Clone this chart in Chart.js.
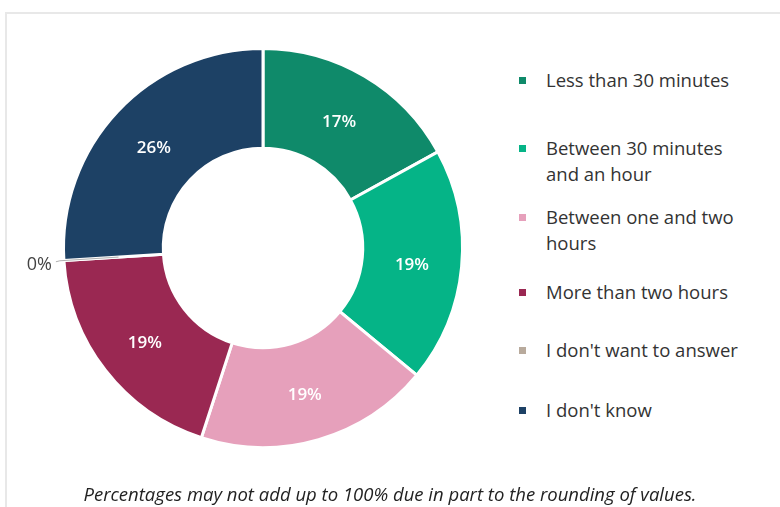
<!DOCTYPE html>
<html>
<head>
<meta charset="utf-8">
<script src="https://cdn.jsdelivr.net/npm/chart.js@4"></script>
<style>
  html, body { margin: 0; padding: 0; background: #fff; }
  body { width: 780px; height: 507px; position: relative; overflow: hidden; font-family: "Open Sans", sans-serif; }
  .frame { position: absolute; left: 5px; top: 12px; width: 800px; height: 520px; border-top: 2px solid #e8e8e8; border-left: 2px solid #e8e8e8; }
  #wrap { position: absolute; left: 0; top: 0; width: 527px; height: 497px; }
  #legend { position: absolute; left: 0; top: 0; }
  .item { position: absolute; left: 546px; width: 212px; font-size: 18.5px; line-height: 26px; color: #333; }
  .item i { position: absolute; left: -27px; top: 10px; width: 7px; height: 7px; }
  .note { position: absolute; left: 0; width: 780px; top: 481px; text-align: center; font-style: italic; font-size: 18.5px; color: #222; }
</style>
</head>
<body>
<div class="frame"></div>
<div id="wrap"><canvas id="timeChart"></canvas></div>
<div id="legend"></div>
<div class="note">Percentages may not add up to 100% due in part to the rounding of values.</div>
<script>
const categories = [
  'Less than 30 minutes',
  'Between 30 minutes and an hour',
  'Between one and two hours',
  'More than two hours',
  "I don't want to answer",
  "I don't know"
];
const shares = [17, 19, 19, 19, 0, 26];
const colors = ['#0f8a6a', '#05b487', '#e6a0bb', '#9a2852', '#b8aa9c', '#1d4165'];

// vertical slot of each legend row
const legendTops = [67, 135, 204, 279, 337, 397];

// white percentage inside each slice, leader line for the empty one
const sliceLabels = {
  id: 'sliceLabels',
  afterDatasetsDraw(chart) {
    const ctx = chart.ctx;
    const meta = chart.getDatasetMeta(0);
    ctx.save();
    meta.data.forEach((arc, i) => {
      const v = shares[i];
      const text = v + '%';
      if (v > 0) {
        const p = arc.tooltipPosition();
        ctx.fillStyle = '#fff';
        ctx.font = '600 17px "Open Sans"';
        ctx.textAlign = 'center';
        ctx.textBaseline = 'middle';
        ctx.fillText(text, p.x, p.y + 3);
      } else {
        const a = (arc.startAngle + arc.endAngle) / 2;
        const r0 = arc.innerRadius + 45, r1 = arc.outerRadius + 4;
        const x1 = arc.x + Math.cos(a) * r1, y1 = arc.y + Math.sin(a) * r1;
        ctx.strokeStyle = '#b0b0b0';
        ctx.lineWidth = 1;
        ctx.beginPath();
        ctx.moveTo(arc.x + Math.cos(a) * r0, arc.y + Math.sin(a) * r0);
        ctx.lineTo(x1, y1);
        ctx.lineTo(x1 - 4, y1 + 1);
        ctx.stroke();
        ctx.fillStyle = '#444';
        ctx.font = '18px "Open Sans"';
        ctx.textAlign = 'right';
        ctx.textBaseline = 'middle';
        ctx.fillText(text, x1 - 8, y1 + 4);
      }
    });
    ctx.restore();
  }
};

const data = {
  labels: categories,
  datasets: [{
    data: shares,
    backgroundColor: colors,
    borderColor: '#fff',
    borderWidth: 3,
    hoverOffset: 0
  }]
};

const config = {
  type: 'doughnut',
  data: data,
  options: {
    responsive: true,
    maintainAspectRatio: false,
    animation: false,
    cutout: '50%',
    layout: { padding: { left: 62, top: 47, right: 63, bottom: 48 } },
    plugins: {
      legend: { display: false },
      tooltip: { enabled: false }
    }
  },
  plugins: [sliceLabels]
};

const timeChart = new Chart(document.getElementById('timeChart'), config);

// legend built from the chart's own labels and colours
const legend = document.getElementById('legend');
timeChart.data.labels.forEach((label, i) => {
  const row = document.createElement('div');
  row.className = 'item';
  row.style.top = legendTops[i] + 'px';
  row.innerHTML = '<i style="background:' + colors[i] + '"></i>' + label;
  legend.appendChild(row);
});
</script>
</body>
</html>
